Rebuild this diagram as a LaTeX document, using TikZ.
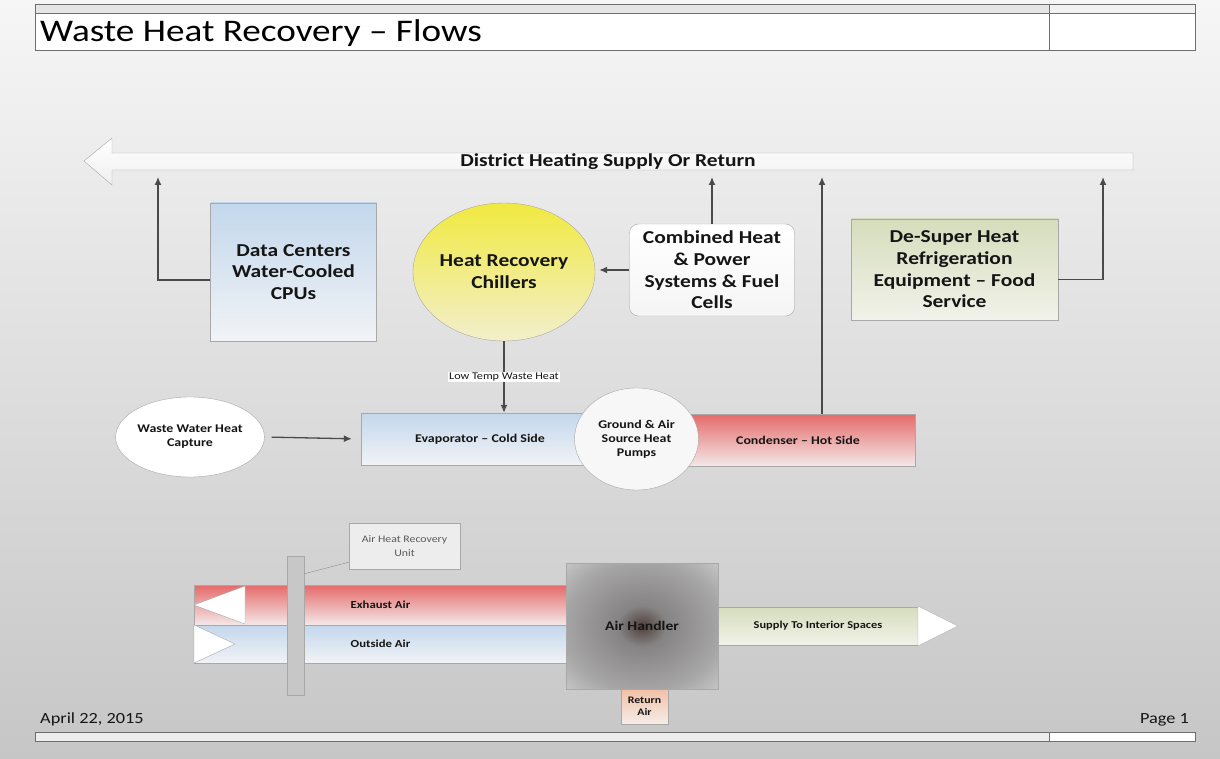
\documentclass[tikz,border=0pt]{standalone}
\usepackage{fontspec}
\setmainfont[FakeStretch=1.18]{Carlito}
\usetikzlibrary{shapes.geometric, calc, positioning, arrows.meta}
\usepackage{xcolor}
\definecolor{bgtop}{HTML}{F6F6F6}
\definecolor{bgbot}{HTML}{C6C6C6}
\definecolor{edgegray}{HTML}{A8A8A8}
\definecolor{framegray}{HTML}{6E6E6E}
\definecolor{linegray}{HTML}{4A4A4A}
\definecolor{ink}{HTML}{151515}
\definecolor{bluetop}{HTML}{C3D7EC}
\definecolor{bluebot}{HTML}{F1F3F6}
\definecolor{yellowtop}{HTML}{F1E940}
\definecolor{yellowbot}{HTML}{F2EFCC}
\definecolor{redtop}{HTML}{E56A6A}
\definecolor{redbot}{HTML}{F4E8E8}
\definecolor{greentop}{HTML}{D6DDBC}
\definecolor{greenbot}{HTML}{F1F2EA}
\definecolor{peachtop}{HTML}{F2C0A6}
\definecolor{peachbot}{HTML}{F5EDE7}
\definecolor{ahcore}{HTML}{4E3F3B}
\definecolor{ahmid}{HTML}{858383}
\definecolor{ahedge}{HTML}{DBDBDB}
\pgfdeclareradialshading{ahshade}{\pgfpoint{0bp}{0bp}}{color(0bp)=(ahcore); color(8bp)=(ahmid); color(26bp)=(ahmid!60!ahedge); color(42bp)=(ahedge); color(50bp)=(ahedge)}

\begin{document}
\begin{tikzpicture}[x=1pt, y=-1pt]
        \tikzstyle{box}=[draw=edgegray, align=center, inner sep=0pt, text=ink]
        \tikzstyle{bigtxt}=[font=\fontsize{18.2}{21.7}\selectfont\bfseries]
        \tikzstyle{smalltxt}=[font=\fontsize{11.8}{14}\selectfont\bfseries]
        \tikzstyle{flow}=[draw=linegray, line width=1.3pt, -{Latex[length=8pt, width=7pt]}]
        \tikzstyle{frame}=[draw=framegray, line width=0.8pt]

        % Page background
        \fill[top color=bgtop, bottom color=bgbot] (0,0) rectangle (1220,759);
        \useasboundingbox (0,0) rectangle (1220,759);

        % Title block
        \draw[frame, fill=black!10] (35,4) rectangle (1049,13);
        \draw[frame, fill=black!5] (1049,4) rectangle (1195,13);
        \draw[frame, fill=white] (35,13) rectangle (1049,50);
        \draw[frame, fill=white] (1049,13) rectangle (1195,50);
        \node[anchor=base west, inner sep=0pt, font=\fontsize{31.5}{31}\selectfont] (title) at (40,42) {Waste Heat Recovery -- Flows};

        % District heating arrow
        \draw[draw=edgegray, top color=white, bottom color=black!6] (84,161) -- (112,138) -- (112,153) -- (1133,153) -- (1133,170) -- (112,170) -- (112,185) -- cycle;
        \node[font=\fontsize{18.2}{20}\selectfont\bfseries, text=ink] (district) at (608,162) {District Heating Supply Or Return};
        \coordinate (dh-a) at (158,177);
        \coordinate (dh-b) at (712,177);
        \coordinate (dh-c) at (822,177);
        \coordinate (dh-d) at (1103,177);

        % Heat sources
        \node[box, bigtxt, top color=bluetop, bottom color=bluebot, minimum width=166pt, minimum height=138pt] (dc) at (293.5,272) {Data Centers\\Water-Cooled\\CPUs};
        \node[box, bigtxt, ellipse, top color=yellowtop, bottom color=yellowbot, minimum width=166pt, minimum height=138pt] (hrc) at (504,272) {Heat Recovery\\Chillers};
        \node[box, bigtxt, rounded corners=9pt, top color=white, bottom color=black!4, minimum width=165pt, minimum height=92pt] (chp) at (712,270) {Combined Heat\\\& Power\\Systems \& Fuel\\Cells};
        \node[box, bigtxt, top color=greentop, bottom color=greenbot, minimum width=207pt, minimum height=101pt] (dsh) at (954.5,269.5) {De-Super Heat\\Refrigeration\\Equipment -- Food\\Service};

        % Heat pump row
        \node[box, smalltxt, top color=bluetop, bottom color=bluebot, minimum width=238pt, minimum height=52pt] (evap) at (480,439) {Evaporator -- Cold Side};
        \node[box, smalltxt, top color=redtop, bottom color=redbot, minimum width=245pt, minimum height=52pt] (cond) at (793,440) {\hspace*{10pt}Condenser -- Hot Side};
        \node[box, smalltxt, ellipse, fill=black!3, minimum width=124pt, minimum height=102pt] (gashp) at (636.5,439) {Ground \& Air\\Source Heat\\Pumps};
        \node[box, smalltxt, ellipse, fill=white, minimum width=145pt, minimum height=80pt] (wwhc) at (190,437) {Waste Water Heat\\Capture};

        % Connectors to district heating
        \draw[flow] ([yshift=-8pt]dc.west) -| (dh-a);
        \draw[flow] (chp.north) -- (dh-b);
        \draw[flow] (dh-c |- cond.north) -- (dh-c);
        \draw[flow] ([yshift=-10pt]dsh.east) -| (dh-d);
        \draw[flow, shorten >=4pt] (chp.west) -- (chp.west -| hrc.east);
        \draw[flow] (hrc.south) -- node[fill=white, inner sep=1pt, font=\fontsize{10.3}{12}\selectfont, text=ink] {Low Temp Waste Heat} (hrc.south |- evap.north);
        \draw[flow, shorten <=7pt, shorten >=9pt] (wwhc.east) -- (evap.west);

        % Air side
        \node[box, font=\fontsize{10.8}{12}\selectfont\bfseries, top color=redtop, bottom color=redbot, minimum width=373pt, minimum height=40pt] (exh) at (380.5,605) {Exhaust Air};
        \node[box, font=\fontsize{10.8}{12}\selectfont\bfseries, top color=bluetop, bottom color=bluebot, minimum width=373pt, minimum height=38pt] (oa) at (380.5,644) {Outside Air};
        \draw[draw=edgegray, fill=white] (exh.west) -- (245,586) -- (245,624) -- cycle;
        \draw[draw=edgegray, fill=white] (oa.north west) -- (235,644) -- (oa.south west) -- cycle;
        \node[box, fill=black!22, minimum width=17pt, minimum height=139pt] (ahru) at (295.5,625.5) {};
        \node[box, fill=black!7, text=black!65, font=\fontsize{10}{14}\selectfont, minimum width=111pt, minimum height=46pt] (ahrulbl) at (404.5,546) {Air Heat Recovery\\Unit};
        \draw[draw=black!45] ([yshift=7pt]ahrulbl.south west) -- ([yshift=-18pt]ahru.north east);
        \node[box, shading=ahshade, font=\fontsize{13.2}{16}\selectfont\bfseries, minimum width=152pt, minimum height=126pt] (ah) at (642,626) {Air Handler};
        \node[box, top color=peachtop, bottom color=peachbot, font=\fontsize{10}{12.3}\selectfont\bfseries, minimum width=47pt, minimum height=35pt] (ra) at (644.5,706.5) {Return\\Air};
        \node[box, top color=greentop, bottom color=greenbot, font=\fontsize{10.5}{12}\selectfont\bfseries, minimum width=200pt, minimum height=38pt] (sup) at (818,626) {Supply To Interior Spaces};
        \draw[draw=edgegray, fill=white] (918,606) -- (958,626) -- (918,646) -- cycle;

        % Footer
        \node[anchor=base west, inner sep=0pt, font=\fontsize{15.5}{16}\selectfont, text=ink] (date) at (40,723) {April 22, 2015};
        \node[anchor=base east, inner sep=0pt, font=\fontsize{15.5}{16}\selectfont, text=ink] (page) at (1189,723) {Page 1};
        \draw[frame, fill=black!7] (35,732) rectangle (1049,741);
        \draw[frame, fill=white] (1049,732) rectangle (1195,741);
\end{tikzpicture}
\end{document}
